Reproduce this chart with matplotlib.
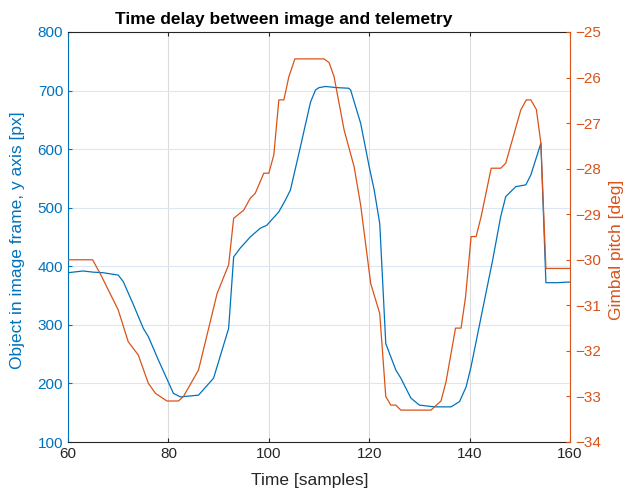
import matplotlib
matplotlib.use("Agg")
import matplotlib.pyplot as plt
import numpy as np

plt.rcParams['font.family'] = ['Liberation Sans', 'DejaVu Sans']

# Object position in image frame (y axis, px)
obj_t = [60, 63, 65, 67, 70, 71, 73, 75, 76, 78, 81, 82.4, 86, 89, 92, 93,
         94.3, 96.3, 98.3, 99.6, 102, 103.3, 104.3, 106.3, 108.3, 109.3, 110,
         111.3, 113.6, 115.9, 116.3, 118.3, 120, 121, 122.1, 123.3, 125.3,
         126.3, 128.3, 130, 133, 136.3, 138, 139.3, 140.3, 142.3, 144.6, 146.2,
         147.2, 149.2, 151.2, 152.2, 154.2, 155.2, 157.5, 159.5, 160]
obj_y = [389, 392, 390, 389, 385, 374, 335, 294, 280, 240, 183, 177, 180, 209,
         294, 416, 431, 450, 465, 470, 493, 513, 530, 604, 680, 701, 705,
         707, 705, 704, 701, 644, 570, 530, 473, 268, 223, 209, 175, 163, 160,
         160, 169, 194, 229, 314, 411, 485, 519, 536, 539, 556, 610, 372, 372,
         373, 373]

# Gimbal pitch (deg)
gim_t = [60, 64.9, 66.4, 70, 72, 74, 76, 77.4, 79.7, 82, 83, 86, 89.7, 92, 93,
         95, 96.3, 97.3, 99, 100, 101, 102, 103, 104, 105.2, 111, 112, 113,
         115, 117, 118.3, 120.3, 122.1, 123.3, 124.3, 125.3, 126.3, 132.3,
         134.3, 135.3, 137.2, 138.3, 139.2, 140.3, 141.3, 142.3, 144.3, 146.2,
         147.2, 150.2, 151.3, 152.2, 153.3, 154.2, 155.2, 160]
gim_y = [-30.0, -30.0, -30.3, -31.1, -31.8, -32.09, -32.71, -32.93, -33.1,
         -33.1, -33.0, -32.42, -30.74, -30.11, -29.09, -28.91, -28.65, -28.54,
         -28.1, -28.1, -27.7, -26.49, -26.49, -25.98, -25.59, -25.59, -25.67,
         -25.98, -27.15, -27.96, -28.8, -30.52, -31.18, -33.0, -33.19, -33.19,
         -33.3, -33.3, -33.1, -32.68, -31.5, -31.5, -30.81, -29.49, -29.49,
         -29.05, -27.99, -27.99, -27.88, -26.71, -26.49, -26.49, -26.7, -27.44,
         -30.19, -30.19]

x_ticks = [60, 80, 100, 120, 140, 160]
left_ticks = [100, 200, 300, 400, 500, 600, 700, 800]
right_ticks = [-34, -33, -32, -31, -30, -29, -28, -27, -26, -25]

BLUE = '#0072BD'
ORANGE = '#D95319'
DARK = '#262626'

W, H = 625, 493
L, R, T, B = 68, 570, 32, 442
fig = plt.figure(figsize=(W/100, H/100), dpi=100)
ax = fig.add_axes([L/W, 1 - B/H, (R-L)/W, (B-T)/H])
ax2 = ax.twinx()

def fx(px):
    return (px - L) / (R - L)

def fy(py):
    return (B - py) / (B - T)

ax.plot(obj_t, obj_y, color=BLUE, lw=0.9)
ax2.plot(gim_t, gim_y, color=ORANGE, lw=0.9)

ax.set_xlim(60, 160)
ax.set_ylim(100, 800)
ax2.set_ylim(-34, -25)
ax.set_xticks(x_ticks)
ax.set_yticks(left_ticks)
ax2.set_yticks(right_ticks)

ax.grid(axis='x', color='#dcdcdc', lw=0.8)
ax.grid(axis='y', color='#dbe8f3', lw=0.8)
ax.set_axisbelow(True)

for a in (ax, ax2):
    a.tick_params(direction='in', length=3, labelsize=11, width=0.8)
ax.tick_params(axis='x', colors=DARK, top=True)
ax.tick_params(axis='y', colors=BLUE)
ax2.tick_params(axis='y', colors=ORANGE)

ax.spines['left'].set_color(BLUE)
ax.spines['bottom'].set_color(DARK)
ax.spines['top'].set_color(DARK)
ax.spines['right'].set_visible(False)
ax2.spines['left'].set_visible(False)
ax2.spines['top'].set_visible(False)
ax2.spines['bottom'].set_visible(False)
ax2.spines['right'].set_color(ORANGE)

ax.set_xlabel('Time [samples]', fontsize=12.5, color=DARK)
ax.xaxis.set_label_coords(fx(310), fy(473))
ax.set_ylabel('Object in image frame, y axis [px]', fontsize=12.5, color=BLUE)
ax.yaxis.set_label_coords(fx(25), fy(240))
ax2.set_ylabel('Gimbal pitch [deg]', fontsize=12.5, color=ORANGE)
ax2.yaxis.set_label_coords(fx(609), fy(250))
ax.text(fx(284), fy(24), 'Time delay between image and telemetry',
        transform=ax.transAxes, ha='center', va='baseline',
        fontsize=12.5, fontweight='bold', color='black')

fig.savefig('out.png', dpi=100)
